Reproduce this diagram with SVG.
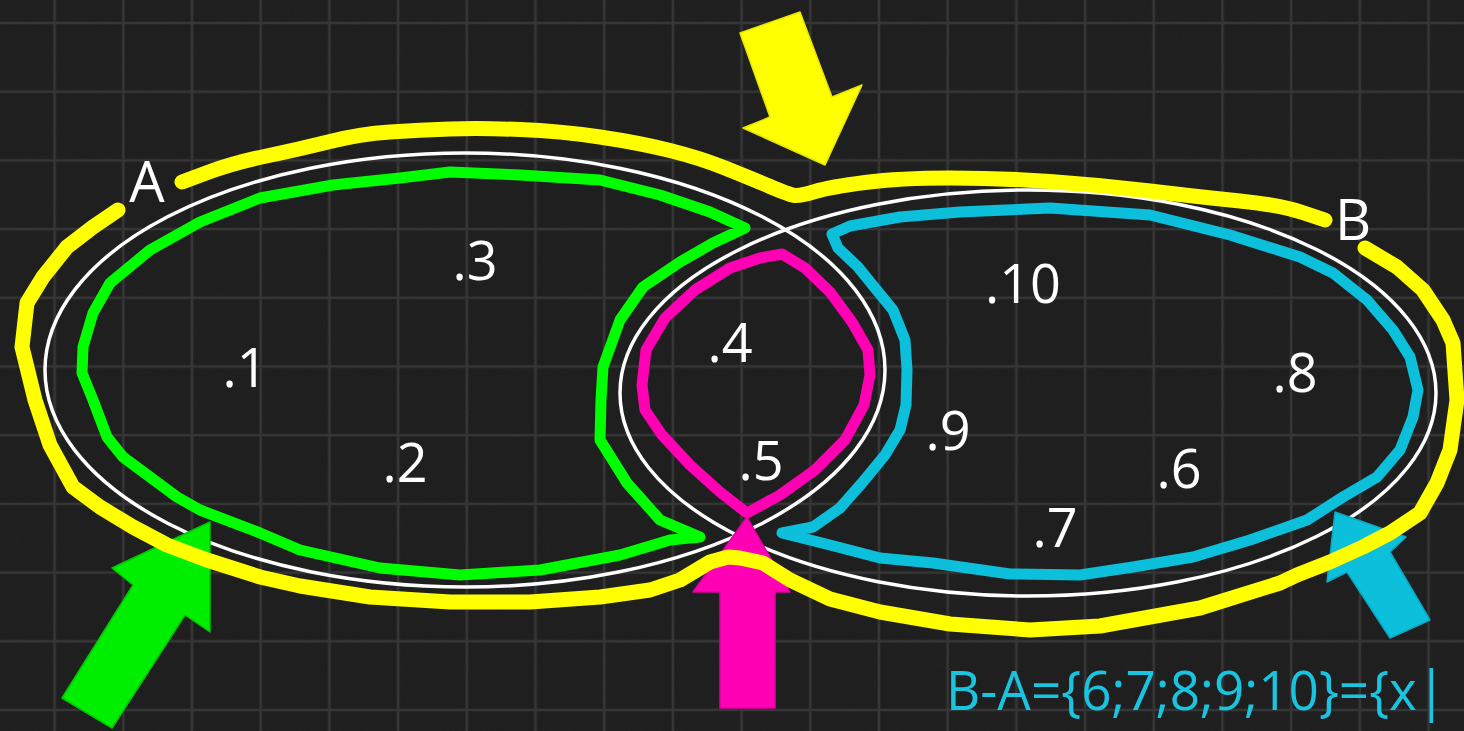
<svg xmlns="http://www.w3.org/2000/svg" width="1464" height="731" viewBox="0 0 1464 731">
<defs>
<pattern id="grid" patternUnits="userSpaceOnUse" x="52.6" y="21" width="68.7" height="68.7">
<path d="M0 2H68.7M2 0V68.7" stroke="#363636" stroke-width="2.6" fill="none"/>
</pattern>
<filter id="noise" x="0" y="0" width="100%" height="100%">
<feTurbulence type="fractalNoise" baseFrequency="0.9" numOctaves="2" seed="3" result="n"/>
<feColorMatrix type="matrix" values="0 0 0 0 1  0 0 0 0 1  0 0 0 0 1  0 0 0 0.035 0"/>
</filter>
<style>
.ell{fill:none;stroke:#ffffff;stroke-width:3.5}
.mk{fill:none;stroke-linecap:round;stroke-linejoin:round}
.yel{stroke:#ffff00;stroke-width:15}
.grn{stroke:#00ff00;stroke-width:11}
.mag{stroke:#ff00b4;stroke-width:11}
.cya{stroke:#0cc0dc;stroke-width:11}
.lbl{font-family:"Open Sans","DejaVu Sans",sans-serif;fill:#ffffff;font-size:56px;text-anchor:middle}
.num{font-family:"Open Sans","DejaVu Sans",sans-serif;fill:#ffffff;font-size:54px;text-anchor:middle}
.arr{stroke-width:1.5;stroke-linejoin:round}
</style>
</defs>
<g id="background">
<rect width="1464" height="731" fill="#1b1b1b"/>
<rect width="1464" height="731" filter="url(#noise)"/>
<rect width="1464" height="731" fill="url(#grid)"/>
</g>
<g id="set-A">
<ellipse class="ell" cx="465" cy="370" rx="420" ry="217"/>
</g>
<g id="set-B">
<ellipse class="ell" cx="1028" cy="393" rx="408" ry="203"/>
</g>
<g id="region-A-minus-B">
<path class="mk grn" d="M745 228 L710 212 L660 195 L600 180 L520 175 L450 172 L400 178 L333 185 L260 198 L200 222 L150 250 L110 283 L93 313 L83 347 L82 373 L93 400 L107 437 L123 457 L150 477 L177 497 L200 510 L260 533 L300 550 L380 568 L460 575 L540 570 L620 555 L670 540 L700 537 L660 520 L627 483 L600 440 L601 400 L603 367 L620 320 L643 287 L680 262 L713 243 Z"/>
</g>
<g id="region-intersection">
<path class="mk mag" d="M782 254 L805 268 L830 292 L852 322 L868 350 L870 375 L864 405 L845 440 L815 470 L780 495 L747 513 L720 492 L690 465 L662 435 L645 410 L642 385 L646 350 L665 318 L695 290 L730 268 L760 258 Z"/>
</g>
<g id="region-B-minus-A">
<path class="mk cya" d="M832 234 L850 226 L900 217 L960 212 L1050 208 L1150 215 L1230 235 L1300 257 L1333 273 L1367 300 L1393 330 L1410 357 L1418 390 L1413 417 L1400 450 L1377 477 L1343 497 L1307 520 L1250 540 L1193 557 L1133 567 L1080 575 L1010 574 L933 563 L880 558 L830 545 L782 533 L813 527 L840 508 L862 483 L885 455 L900 430 L906 405 L907 370 L905 340 L893 310 L875 288 L858 267 L838 248 Z"/>
</g>
<g id="connectors">
<polygon id="arrow-yellow" class="arr" fill="#ffff00" stroke="#e6e600" points="740,33 800,12 832,97 862,85 825,165 743,128 770,117"/>
<polygon id="arrow-green" class="arr" fill="#00ee00" stroke="#00c800" points="210,522 210,632 185,615 112,728 62,698 133,585 112,568"/>
<polygon id="arrow-magenta" class="arr" fill="#ff00b4" stroke="#e000a0" points="747,517 790,592 775,592 775,708 720,708 720,592 693,592"/>
<polygon id="arrow-cyan" class="arr" fill="#0cc0dc" stroke="#0aa8c2" points="1335,512 1406,537 1390,552 1430,620 1390,638 1347,572 1327,582"/>
</g>
<g id="union-A-B">
<path class="mk yel" d="M182 182 L207.5 172.5 Q233 163 266.5 156 Q300 149 330 141.5 Q360 134 390 132 Q420 130 450 129 Q480 128 520 129.5 Q560 131 600 137 Q640 143 670 150.5 Q700 158 725 168 Q750 178 770 186.5 Q790 195 795 195.5 Q800 196 815 191.5 Q830 187 865 182.5 Q900 178 950 178 Q1000 178 1050 181.5 Q1100 185 1150 191 Q1200 197 1240 201 Q1280 205 1302.5 212.5 L1325 220"/>
<path class="mk yel" d="M1365 248 L1397 267 L1423 290 L1443 320 L1453 343 L1457 400 L1450 450 L1437 483 L1420 513 L1390 533 L1363 547 L1330 562 L1297 575 L1280 583 L1200 608 L1100 626 L1030 630 L950 624 L880 612 L830 599 L790 580 L763 563 L740 558 L728 557 L710 562 L680 580 L650 590 L600 597 L530 602 L450 602 L370 597 L300 586 L260 577 L207 560 L167 545 L133 527 L100 507 L73 487 L50 445 L35 400 L22 347 L27 303 L43 277 L67 247 L93 227 L118 210"/>
</g>
<g id="labels">
<text class="lbl" x="147" y="202">A</text>
<text class="lbl" x="1353" y="240">B</text>
</g>
<g id="elements">
<text class="num" x="245" y="387">.1</text>
<text class="num" x="405" y="482">.2</text>
<text class="num" x="475" y="280">.3</text>
<text class="num" x="730" y="362">.4</text>
<text class="num" x="761" y="480">.5</text>
<text class="num" x="1179" y="488">.6</text>
<text class="num" x="1055" y="547">.7</text>
<text class="num" x="1295" y="392">.8</text>
<text class="num" x="948" y="450">.9</text>
<text class="num" x="1023" y="303">.10</text>
</g>
<g id="formula">
<text x="946" y="710" font-family="'Open Sans','DejaVu Sans',sans-serif" font-size="54" fill="#19c4e0" textLength="500" lengthAdjust="spacingAndGlyphs">B-A={6;7;8;9;10}={x|</text>
</g>
</svg>
